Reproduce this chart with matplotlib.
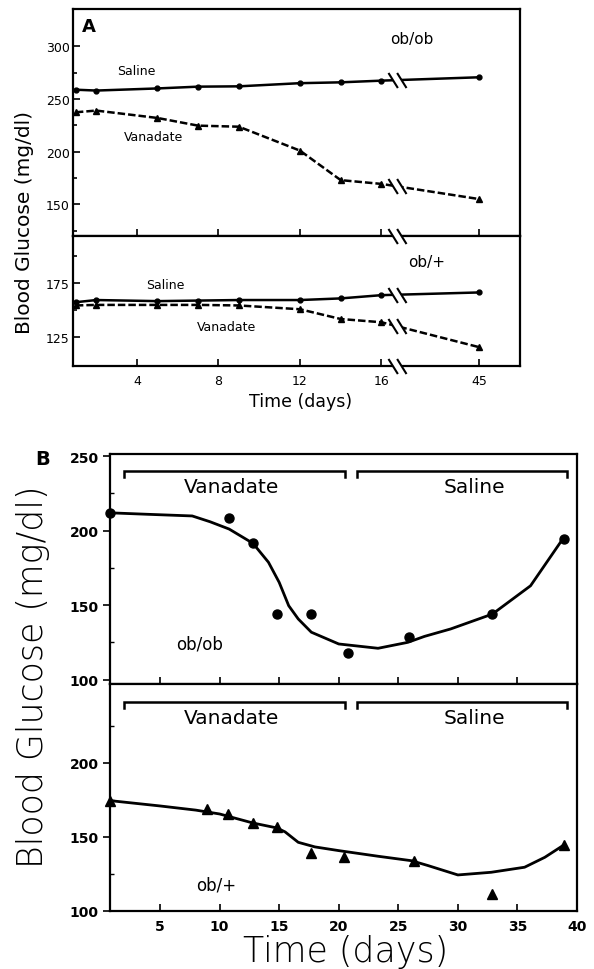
import numpy as np
import matplotlib
matplotlib.use('Agg')
import matplotlib.pyplot as plt
from matplotlib.path import Path
from matplotlib.ticker import FixedLocator

plt.rcParams['font.family'] = ['DejaVu Sans']

# ---- Panel A : readings by day, x axis broken between day 16 and day 45
a_days = [1, 2, 5, 7, 9, 12, 14, 16, 45]
a_obob_saline = [258.8, 258, 260, 261.7, 262, 265, 265.8, 267.4, 270.6]
a_obob_vanadate = [237.4, 239, 232, 224.7, 223.7, 201, 173, 169.4, 155]
a_obplus_saline = [157.5, 159.5, 158.5, 159, 159.5, 159.5, 161, 164, 166.5]
a_obplus_vanadate = [154.5, 155, 155, 155, 154.5, 151, 142, 139, 116]
a_xticks = [4, 8, 12, 16, 45]

# ---- Panel B : single animals, vanadate then saline
b_obob_days = [0.8, 10.8, 12.8, 14.8, 17.7, 20.8, 25.9, 32.9, 38.9]
b_obob_glucose = [212, 208.5, 191.5, 144, 144, 118, 128.6, 144, 194.4]
b_obob_fit_days = [0.8, 4, 7.7, 9.2, 10.8, 12.8, 14.1, 15.0, 15.8, 16.6, 17.7,
                   20.0, 23.3, 25.8, 27.2, 29.4, 32.9, 36.1, 38.8]
b_obob_fit = [212, 211, 209.9, 206, 201.1, 191.5, 178.8, 165.3, 149.6, 140.7,
              131.8, 123.9, 121, 125, 129, 134, 144, 163, 194.4]

b_obplus_days = [0.8, 8.9, 10.7, 12.8, 14.8, 17.7, 20.4, 26.3, 32.9, 38.9]
b_obplus_glucose = [174.4, 168.8, 165.4, 159.3, 156.6, 139.1, 136.4, 133.7, 111.5, 144.7]
b_obplus_fit_days = [0.8, 5, 8, 10, 12.8, 14.8, 15.5, 16.6, 18, 20, 23.3, 26.1,
                     27.5, 30, 32.8, 35.6, 37.3, 38.8]
b_obplus_fit = [174.4, 170.8, 168, 165.4, 159.3, 156, 153.3, 146.3, 143.2, 140.7,
                136.9, 133.9, 130.6, 124.3, 126.1, 129.5, 136.2, 144]

# treatment periods (label, first day, last day)
b_periods = [("Vanadate", 2.0, 20.5), ("Saline", 21.5, 39.2)]
b_period_label_x = [11.0, 31.4]

BREAK_GAP = 4.8     # width given to the 16 -> 45 jump
BREAK_AT = 16.75


def pos(d):
    return d if d <= 16 else 16 + BREAK_GAP


# two slashes, and the white strip between them
slash = Path([(-1.2, 1), (0.05, -1), (-0.05, 1), (1.2, -1)],
             [Path.MOVETO, Path.LINETO, Path.MOVETO, Path.LINETO])
strip = Path([(-1.2, 1), (-0.05, 1), (1.2, -1), (0.05, -1), (-1.2, 1)],
             [Path.MOVETO, Path.LINETO, Path.LINETO, Path.LINETO, Path.CLOSEPOLY])


def draw_break(ax, x, y):
    ax.plot([x], [y], marker=strip, ms=13, mfc='white', mec='none', ls='none',
            clip_on=False, zorder=5)
    ax.plot([x], [y], marker=slash, ms=13, mfc='none', mec='k', mew=1.5, ls='none',
            clip_on=False, zorder=6)


fig = plt.figure(figsize=(5.94, 9.70), dpi=100)
axA1 = fig.add_axes([0.1229, 0.7557, 0.7525, 0.2340])
axA2 = fig.add_axes([0.1229, 0.6216, 0.7525, 0.1341])
axB1 = fig.add_axes([0.1852, 0.2938, 0.7862, 0.2371])
axB2 = fig.add_axes([0.1852, 0.0598, 0.7862, 0.2340])

for ax in [axA1, axA2, axB1, axB2]:
    for s in ax.spines.values():
        s.set_linewidth(1.6)

# ---------------- panel A
xa = [pos(d) for d in a_days]
dash = (0, (3, 1.2))
for ax, sal, van in [(axA1, a_obob_saline, a_obob_vanadate),
                     (axA2, a_obplus_saline, a_obplus_vanadate)]:
    ax.plot(xa, sal, '-', color='k', lw=1.8, marker='o', ms=3.5)
    ax.plot(xa, van, color='k', lw=1.8, ls=dash, marker='^', ms=4)
    ax.set_xlim(0.86, 22.8)
    ax.set_xticks([pos(d) for d in a_xticks])
    ax.tick_params(axis='both', which='both', direction='in', length=5, width=1.2,
                   labelsize=9, pad=2.5)
    ax.tick_params(axis='x', pad=6)
    ax.tick_params(which='minor', length=3)
    # breaks on the lines
    draw_break(ax, BREAK_AT, np.interp(BREAK_AT, xa, sal))
    draw_break(ax, BREAK_AT, np.interp(BREAK_AT, xa, van))

axA1.set_ylim(120, 335.4)
axA1.set_yticks([150, 200, 250, 300])
axA1.yaxis.set_minor_locator(FixedLocator([125, 175, 225, 275]))
axA1.set_xticklabels([])
axA2.set_ylim(98.6, 218.6)
axA2.set_yticks([125, 175])
axA2.yaxis.set_minor_locator(FixedLocator([150, 200]))
axA2.set_xticklabels([str(d) for d in a_xticks])
draw_break(axA2, BREAK_AT, 98.6)
draw_break(axA2, BREAK_AT, 218.6)

axA1.text(1.3, 319, "A", fontsize=13, fontweight='bold', ha='left', va='center')
axA1.text(17.5, 307, "ob/ob", fontsize=11, ha='center', va='center')
axA1.text(3.95, 276.6, "Saline", fontsize=9, ha='center', va='center')
axA1.text(4.8, 214, "Vanadate", fontsize=9, ha='center', va='center')
axA2.text(18.2, 195, "ob/+", fontsize=11, ha='center', va='center')
axA2.text(5.4, 174, "Saline", fontsize=9, ha='center', va='center')
axA2.text(8.4, 135, "Vanadate", fontsize=9, ha='center', va='center')

fig.text(25 / 594, 1 - 223 / 970, "Blood Glucose (mg/dl)", rotation=90,
         fontsize=14.5, ha='center', va='center')
fig.text(301 / 594, 1 - 402 / 970, "Time (days)", fontsize=12.5,
         ha='center', va='center')

# ---------------- panel B
axB1.plot(b_obob_fit_days, b_obob_fit, '-', color='k', lw=2)
axB1.plot(b_obob_days, b_obob_glucose, 'o', color='k', ms=6.5, clip_on=False)
axB2.plot(b_obplus_fit_days, b_obplus_fit, '-', color='k', lw=2)
axB2.plot(b_obplus_days, b_obplus_glucose, '^', color='k', ms=7.5, clip_on=False)

axB1.set_ylim(97, 251.5)
axB1.set_yticks([100, 150, 200, 250])
axB2.set_ylim(100, 253)
axB2.set_yticks([100, 150, 200])
for ax, ybr in [(axB1, 240), (axB2, 241)]:
    ax.set_xlim(0.8, 40)
    ax.set_xticks([5, 10, 15, 20, 25, 30, 35, 40])
    ax.yaxis.set_minor_locator(FixedLocator([125, 175, 225]))
    ax.tick_params(axis='x', direction='in', length=5, width=1.2, labelsize=10, pad=5.5)
    ax.tick_params(axis='y', which='major', direction='out', length=5, width=1.2,
                   labelsize=10, pad=3)
    ax.tick_params(axis='y', which='minor', direction='in', length=3, width=1.0)
    for lab in ax.get_xticklabels() + ax.get_yticklabels():
        lab.set_fontweight('bold')
    for (name, d0, d1), tx in zip(b_periods, b_period_label_x):
        ax.plot([d0, d0, d1, d1], [ybr - 4, ybr, ybr, ybr - 4], '-', color='k',
                lw=1.8, solid_joinstyle='miter')
        ax.text(tx, ybr - 10.5, name, fontsize=14.5, ha='center', va='center')
axB1.tick_params(axis='x', labelbottom=False)

axB1.text(8.3, 124, "ob/ob", fontsize=12, ha='center', va='center')
axB2.text(9.7, 118, "ob/+", fontsize=12, ha='center', va='center')

fig.text(43 / 594, 1 - 460 / 970, "B", fontsize=14, fontweight='bold',
         ha='center', va='center')
fig.text(33 / 594, 1 - 677 / 970, "Blood Glucose (mg/dl)", rotation=90,
         fontsize=25, fontweight='light', ha='center', va='center')
fig.text(346 / 594, 1 - 952 / 970, "Time (days)", fontsize=25, fontweight='light',
         ha='center', va='center')

fig.savefig('out.png', dpi=100)
